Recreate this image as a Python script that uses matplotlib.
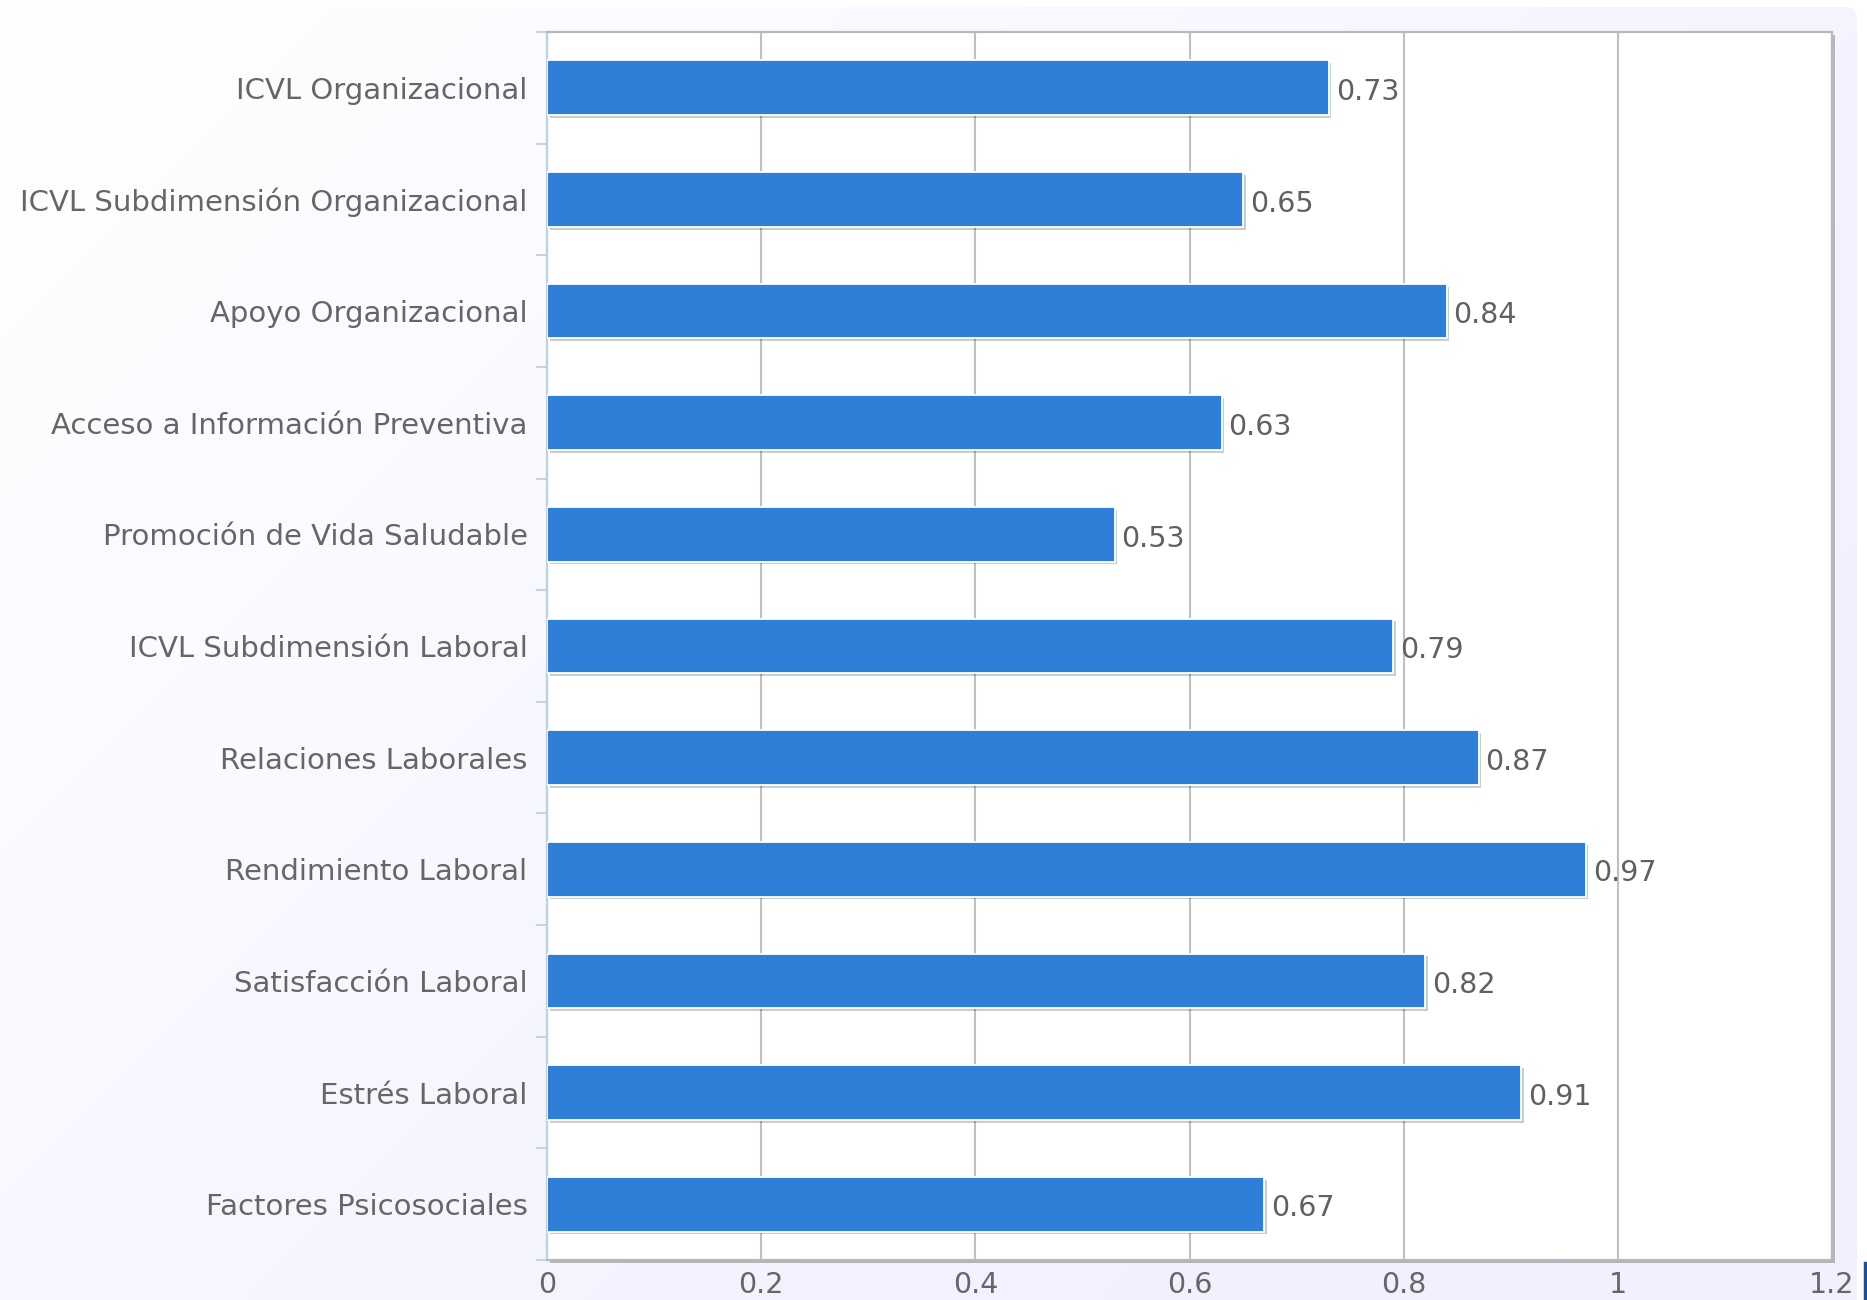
import numpy as np
import matplotlib
matplotlib.use("Agg")
import matplotlib.pyplot as plt
from matplotlib import patheffects as pe
from matplotlib.patches import FancyBboxPatch
from matplotlib.lines import Line2D

categories = [
    "ICVL Organizacional",
    "ICVL Subdimensión Organizacional",
    "Apoyo Organizacional",
    "Acceso a Información Preventiva",
    "Promoción de Vida Saludable",
    "ICVL Subdimensión Laboral",
    "Relaciones Laborales",
    "Rendimiento Laboral",
    "Satisfacción Laboral",
    "Estrés Laboral",
    "Factores Psicosociales",
]
values = [0.73, 0.65, 0.84, 0.63, 0.53, 0.79, 0.87, 0.97, 0.82, 0.91, 0.67]
value_labels = ["0.73", "0.65", "0.84", "0.63", "0.53", "0.79", "0.87", "0.97", "0.82", "0.91", "0.67"]
xticks = [0, 0.2, 0.4, 0.6, 0.8, 1.0, 1.2]
xtick_labels = ["0", "0.2", "0.4", "0.6", "0.8", "1", "1.2"]

W, H = 1867, 1300
fig = plt.figure(figsize=(W / 100, H / 100), dpi=100)
fig.patch.set_facecolor("white")

# background gradient panel
bg = fig.add_axes([0, 0, 1, 1], zorder=-10)
bg.set_xlim(0, W)
bg.set_ylim(H, 0)
bg.axis("off")
yy, xx = np.mgrid[0:H:4, 0:W:4]
t = np.clip((xx + yy) / 2570.0, 0, 1)[..., None]
c0 = np.array([1.0, 1.0, 1.0])
c1 = np.array([240, 240, 255]) / 255.0
img = c0 * (1 - t) + c1 * t
im = bg.imshow(img, extent=[0, W, H, 0], aspect="auto", interpolation="bilinear")
panel = FancyBboxPatch((-30, 7), 1857 + 30, H + 30, boxstyle="round,pad=0,rounding_size=12",
                       transform=bg.transData, facecolor="none", edgecolor="none")
bg.add_patch(panel)
im.set_clip_path(panel)
bg.add_line(Line2D([1865, 1865], [1263, 1300], color="#1f4f9a", lw=2.5))

# main axes
left, right, top, bottom = 547, 1832, 32, 1260
ax = fig.add_axes([left / W, 1 - bottom / H, (right - left) / W, (bottom - top) / H])
ax.set_facecolor("white")
ax.patch.set_path_effects([pe.SimplePatchShadow(offset=(2.5, -2.5), shadow_rgbFace="#000000", alpha=0.25),
                           pe.Normal()])

n = len(categories)
y = np.arange(n)
bars = ax.barh(y, values, height=0.49, color="#2f7ed8", edgecolor="white", linewidth=1.3, zorder=3)
for b in bars:
    b.set_path_effects([pe.SimplePatchShadow(offset=(2, -2), shadow_rgbFace="#000000", alpha=0.2),
                        pe.Normal()])

for yi, v, lab in zip(y, values, value_labels):
    ax.annotate(lab, xy=(v, yi), xytext=(5, -3), textcoords="offset points",
                ha="left", va="center", fontsize=20.5, color="#606060", zorder=4)

ax.set_xlim(0, 1.2)
ax.set_ylim(n - 0.5, -0.5)
ax.set_xticks(xticks)
ax.set_xticklabels(xtick_labels)
ax.set_yticks(y)
ax.set_yticklabels(categories)
ax.set_yticks(np.arange(n + 1) - 0.5, minor=True)

ax.grid(axis="x", color="#c0c0c0", linewidth=1.5, zorder=0)
ax.set_axisbelow(True)

ax.tick_params(axis="x", which="major", length=0, pad=8, labelsize=20.5, labelcolor="#666666")
ax.tick_params(axis="y", which="major", length=0, pad=14, labelsize=21, labelcolor="#666666")
ax.tick_params(axis="y", which="minor", length=8, width=1.3, color="#c0d0e0")

for s in ["top", "right", "bottom"]:
    ax.spines[s].set_color("#b8b8b8")
    ax.spines[s].set_linewidth(1.6)
ax.spines["left"].set_color("#c0d0e0")
ax.spines["left"].set_linewidth(1.6)

fig.savefig("out.png", dpi=100, facecolor=fig.get_facecolor())
